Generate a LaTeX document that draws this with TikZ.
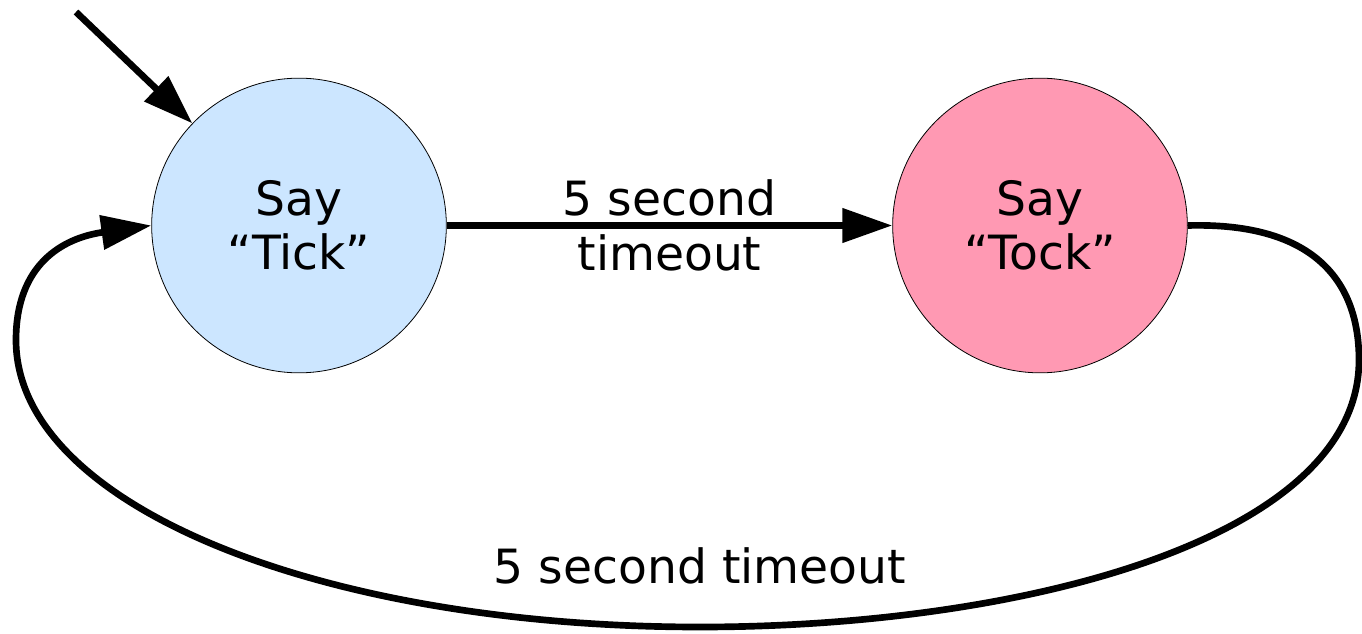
\documentclass[tikz,border=0pt]{standalone}
\usepackage{fontspec}
\setmainfont{DejaVu Sans}
\usetikzlibrary{arrows.meta}
\definecolor{tickblue}{RGB}{204,230,255}
\definecolor{tockpink}{RGB}{255,153,179}
\begin{document}
\begin{tikzpicture}[x=0.75pt,y=-0.75pt,
  state/.style={circle,draw=black,line width=0.6pt,minimum size=221pt,inner sep=0pt,align=center,
    font=\fontsize{35.4pt}{40.9pt}\selectfont},
  lbl/.style={align=center,font=\fontsize{35.4pt}{40.9pt}\selectfont,inner sep=0pt},
  conn/.style={line width=5pt,-{Triangle[length=37.5pt,width=25pt]}},
  loopline/.style={line width=5pt,-{Triangle[length=37.5pt,width=25pt]}}]
\useasboundingbox (0,0) rectangle (1362,634);
\node[state,fill=tickblue] (tick) at (299,225.5) {Say\\“Tick”};
\node[state,fill=tockpink] (tock) at (1040,225.5) {Say\\“Tock”};
\coordinate (init) at (76,12);
\draw[conn] (init) -- (tick);
\draw[conn] (tick) -- node[lbl] (lbl1) {5 second\\timeout} (tock);
\draw[loopline] (tock.east) .. controls (1318,222) and (1359,285) .. (1359,360)
  .. controls (1359,540) and (1020,627) .. (700,627)
  node[lbl,anchor=base,yshift=33pt] (lbl2) {5 second timeout}
  .. controls (320,627) and (16,505) .. (16,340)
  .. controls (16,265) and (62,238) .. (tick.west);
\end{tikzpicture}
\end{document}
